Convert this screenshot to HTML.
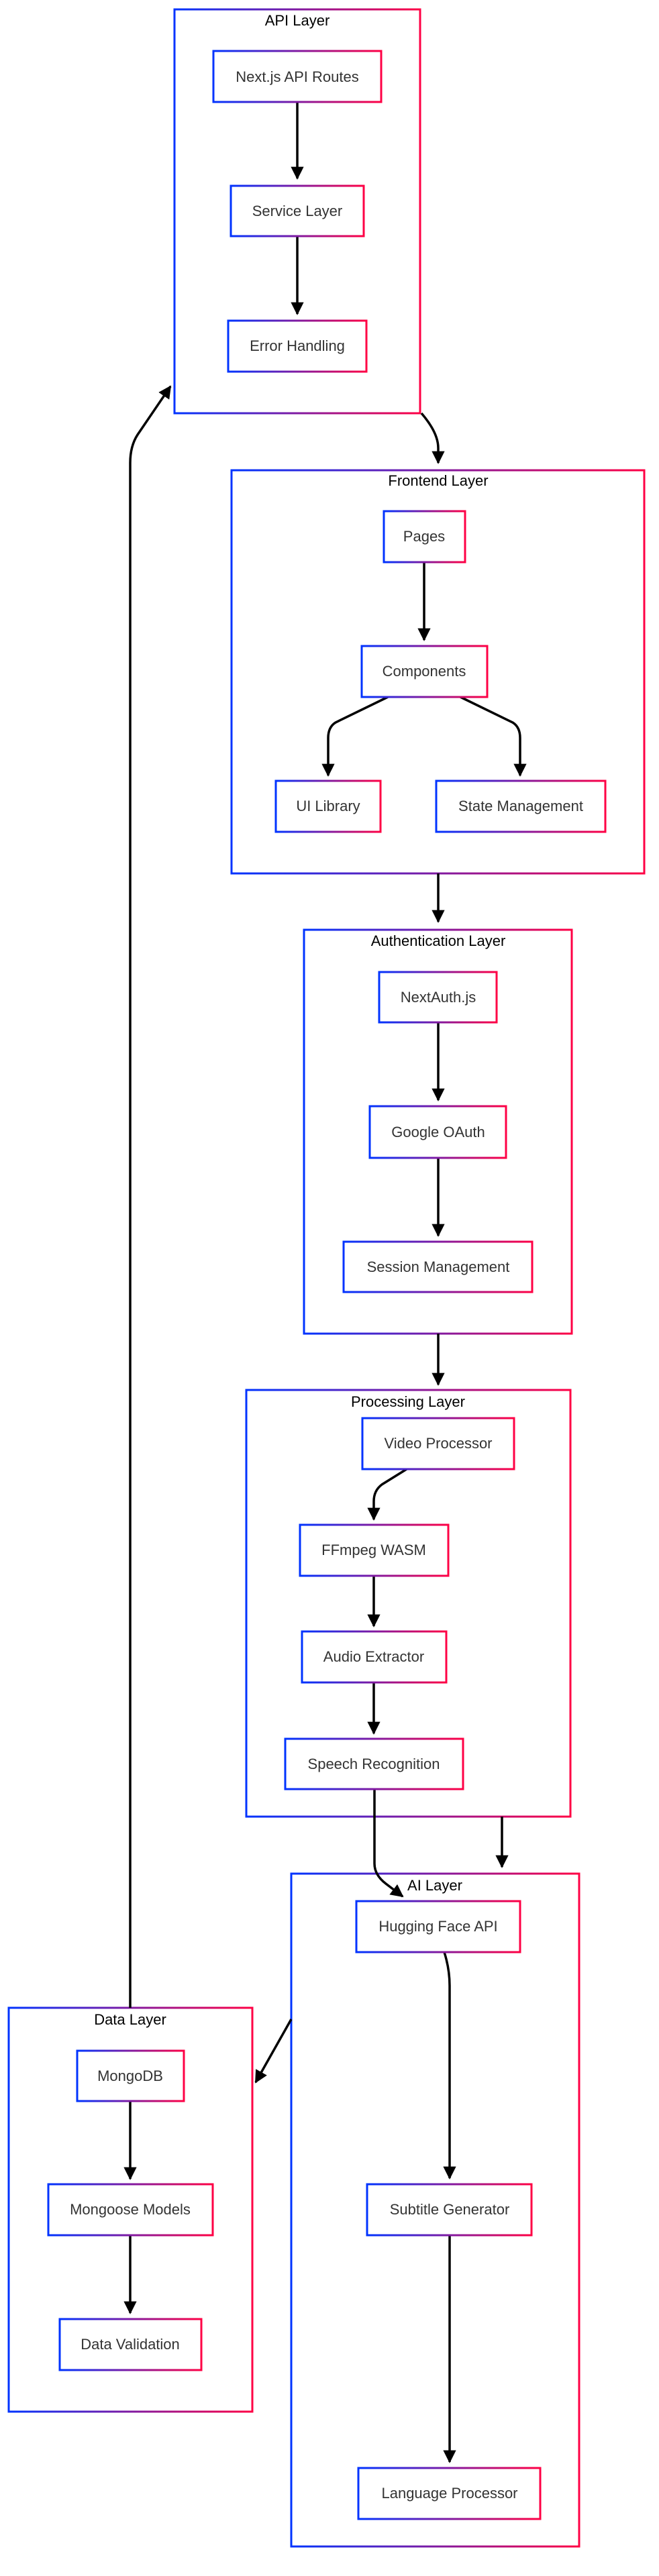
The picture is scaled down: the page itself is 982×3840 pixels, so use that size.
<!DOCTYPE html>
<html><head><meta charset="utf-8"><style>
html,body{margin:0;padding:0;background:#fff;}
svg{display:block;}
text{font-family:"Liberation Sans",Arial,sans-serif;}
.t{font-size:22px;fill:#000;text-anchor:middle;}
.n{font-size:22px;fill:#333;text-anchor:middle;}
.b{fill:#fff;stroke:url(#g);stroke-width:3;}
.c{fill:none;stroke:url(#g);stroke-width:3;}
.e{fill:none;stroke:#000;stroke-width:3.5;}
</style></head><body>
<svg width="982" height="3840" viewBox="0 0 982 3840" xmlns="http://www.w3.org/2000/svg">
<defs>
<linearGradient id="g" x1="0" y1="0" x2="1" y2="0">
<stop offset="0" stop-color="#0033ff"/><stop offset="1" stop-color="#ff0044"/>
</linearGradient>
<marker id="a" viewBox="0 0 10 10" refX="9" refY="5" markerWidth="5.5" markerHeight="5.5" orient="auto" markerUnits="strokeWidth">
<path d="M0,0 L10,5 L0,10 z" fill="#000"/></marker>
</defs>

<rect class="c" x="260" y="14" width="366" height="602"/>
<text class="t" x="443" y="38">API Layer</text>
<rect class="c" x="345" y="701" width="615" height="601"/>
<text class="t" x="653" y="724">Frontend Layer</text>
<rect class="c" x="453" y="1386" width="399" height="602"/>
<text class="t" x="653" y="1410">Authentication Layer</text>
<rect class="c" x="367" y="2072" width="483" height="636"/>
<text class="t" x="608" y="2097">Processing Layer</text>
<rect class="c" x="434" y="2793" width="429" height="1003"/>
<text class="t" x="648" y="2818">AI Layer</text>
<rect class="c" x="13" y="2993" width="363" height="602"/>
<text class="t" x="194" y="3018">Data Layer</text>

<path class="e" d="M443,152 L443,266" marker-end="url(#a)"/>
<path class="e" d="M443,352 L443,468" marker-end="url(#a)"/>
<path class="e" d="M628,616 Q653,645 653,668 L653,690" marker-end="url(#a)"/>
<path class="e" d="M632,838 L632,954" marker-end="url(#a)"/>
<path class="e" d="M578,1039 L500,1077 Q489,1084 489,1100 L489,1156" marker-end="url(#a)"/>
<path class="e" d="M686,1039 L764,1077 Q775,1084 775,1100 L775,1156" marker-end="url(#a)"/>
<path class="e" d="M653,1302 L653,1374" marker-end="url(#a)"/>
<path class="e" d="M653,1524 L653,1640" marker-end="url(#a)"/>
<path class="e" d="M653,1726 L653,1842" marker-end="url(#a)"/>
<path class="e" d="M653,1988 L653,2064" marker-end="url(#a)"/>
<path class="e" d="M606,2190 L569,2213 Q557,2222 557,2238 L557,2265" marker-end="url(#a)"/>
<path class="e" d="M557,2349 L557,2424" marker-end="url(#a)"/>
<path class="e" d="M557,2508 L557,2584" marker-end="url(#a)"/>
<path class="e" d="M558,2667 L558,2778 Q558,2795 575,2808 L600,2827" marker-end="url(#a)"/>
<path class="e" d="M748,2708 L748,2783" marker-end="url(#a)"/>
<path class="e" d="M662,2910 Q670,2935 670,2960 L670,3247" marker-end="url(#a)"/>
<path class="e" d="M670,3332 L670,3670" marker-end="url(#a)"/>
<path class="e" d="M434,3010 L381,3104" marker-end="url(#a)"/>
<path class="e" d="M194,2993 L194,690 Q194,665 205,648 L254,576" marker-end="url(#a)"/>
<path class="e" d="M194,3132 L194,3248" marker-end="url(#a)"/>
<path class="e" d="M194,3332 L194,3448" marker-end="url(#a)"/>

<rect class="b" x="318" y="76" width="250" height="76"/><text class="n" x="443" y="122">Next.js API Routes</text>
<rect class="b" x="344" y="277" width="198" height="75"/><text class="n" x="443" y="322">Service Layer</text>
<rect class="b" x="340" y="478" width="206" height="76"/><text class="n" x="443" y="523">Error Handling</text>

<rect class="b" x="572" y="762" width="121" height="76"/><text class="n" x="632" y="807">Pages</text>
<rect class="b" x="539" y="963" width="187" height="76"/><text class="n" x="632" y="1008">Components</text>
<rect class="b" x="411" y="1164" width="156" height="76"/><text class="n" x="489" y="1209">UI Library</text>
<rect class="b" x="650" y="1164" width="252" height="76"/><text class="n" x="776" y="1209">State Management</text>

<rect class="b" x="565" y="1449" width="175" height="75"/><text class="n" x="653" y="1494">NextAuth.js</text>
<rect class="b" x="551" y="1649" width="203" height="77"/><text class="n" x="653" y="1695">Google OAuth</text>
<rect class="b" x="512" y="1851" width="281" height="75"/><text class="n" x="653" y="1896">Session Management</text>

<rect class="b" x="540" y="2114" width="226" height="76"/><text class="n" x="653" y="2159">Video Processor</text>
<rect class="b" x="447" y="2273" width="221" height="76"/><text class="n" x="557" y="2318">FFmpeg WASM</text>
<rect class="b" x="450" y="2432" width="215" height="76"/><text class="n" x="557" y="2477">Audio Extractor</text>
<rect class="b" x="425" y="2592" width="265" height="75"/><text class="n" x="557" y="2637">Speech Recognition</text>

<rect class="b" x="531" y="2834" width="244" height="76"/><text class="n" x="653" y="2879">Hugging Face API</text>
<rect class="b" x="547" y="3256" width="245" height="76"/><text class="n" x="670" y="3301">Subtitle Generator</text>
<rect class="b" x="534" y="3679" width="271" height="76"/><text class="n" x="670" y="3724">Language Processor</text>

<rect class="b" x="115" y="3057" width="159" height="75"/><text class="n" x="194" y="3102">MongoDB</text>
<rect class="b" x="72" y="3256" width="245" height="76"/><text class="n" x="194" y="3301">Mongoose Models</text>
<rect class="b" x="89" y="3457" width="211" height="76"/><text class="n" x="194" y="3502">Data Validation</text>
</svg>
</body></html>
